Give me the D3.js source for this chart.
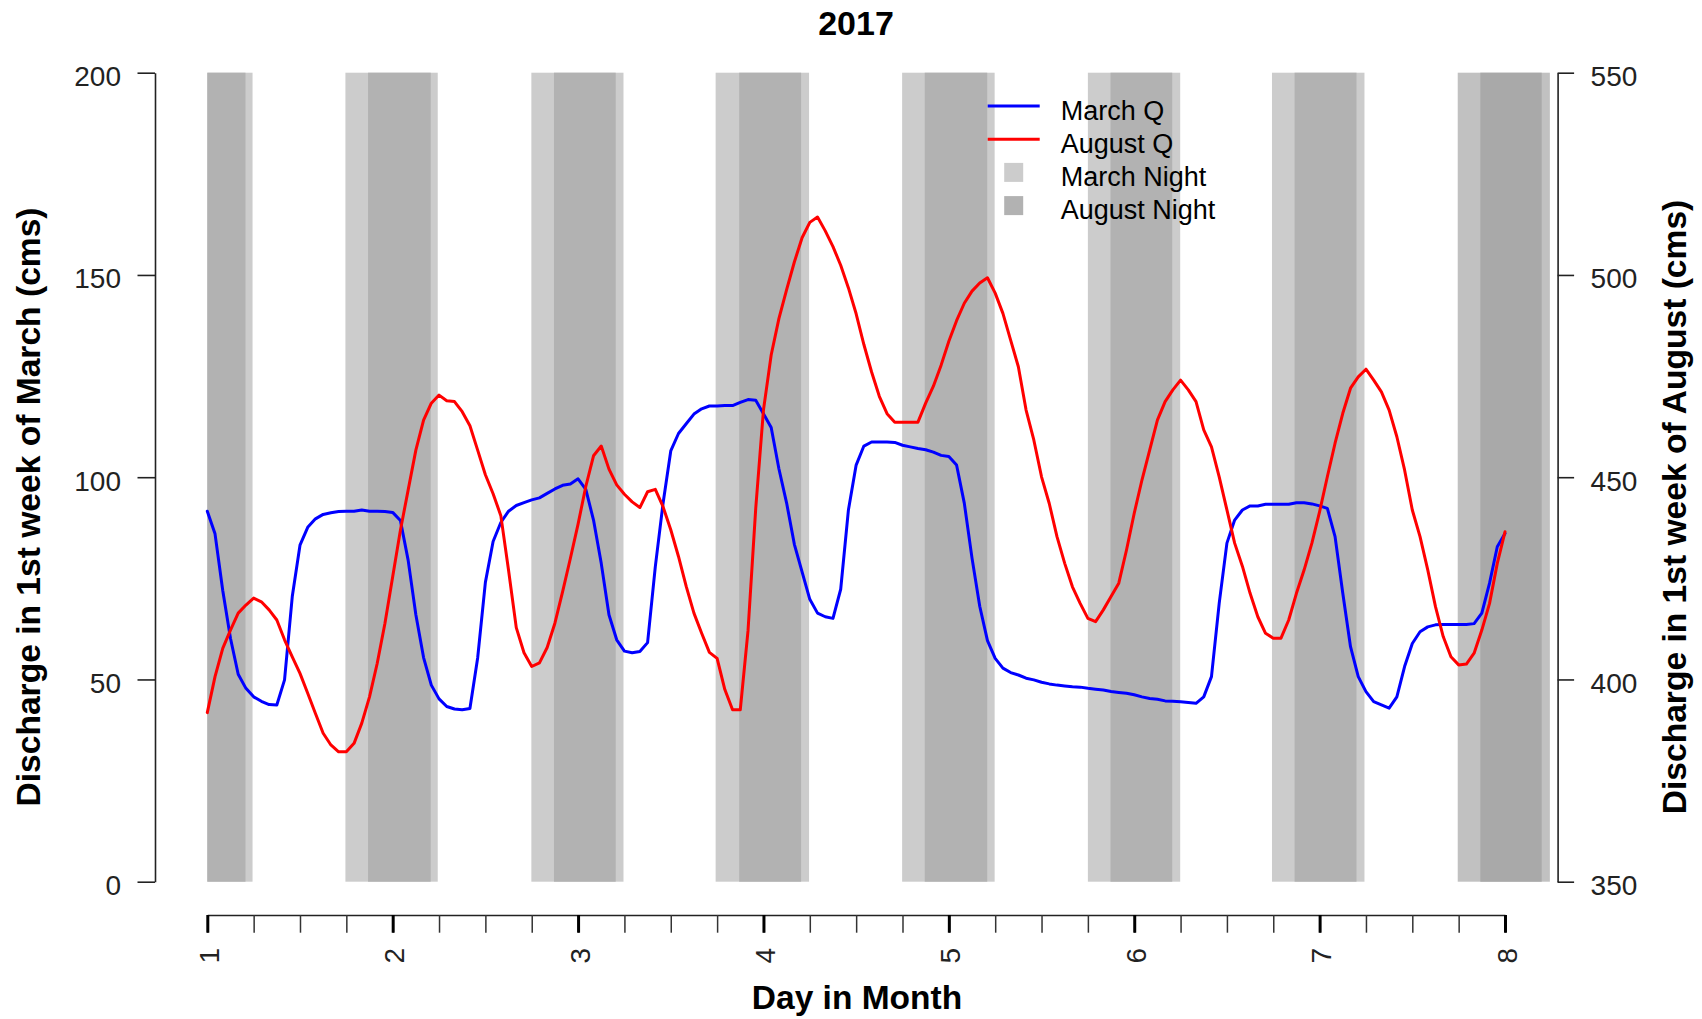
<!DOCTYPE html>
<html>
<head>
<meta charset="utf-8">
<script src="https://cdn.jsdelivr.net/npm/d3@7"></script>
<style>
  body { margin: 0; background: #ffffff; }
  svg { display: block; }
  text { font-family: "Liberation Sans", Arial, Helvetica, sans-serif; }
</style>
</head>
<body>
<svg id="chart" width="1702" height="1019"></svg>
<script>
// Hourly discharge, first reading at 00:00 on day 1 (index i -> day 1 + i/24)
const firstDay = 1;
const hoursPerDay = 24;

// Discharge in the 1st week of March (cms), left axis
const marchQ = [
  91.6, 86.0, 72.0, 60.2, 51.3, 47.8, 45.7, 44.6, 43.8, 43.7, 49.9, 70.5,
  83.2, 87.6, 89.7, 90.8, 91.2, 91.5, 91.6, 91.6, 91.9, 91.6, 91.6, 91.5,
  91.3, 89.3, 79.5, 66.0, 55.4, 48.6, 45.2, 43.3, 42.7, 42.5, 42.8, 55.3,
  74.0, 84.1, 88.8, 91.6, 93.0, 93.7, 94.4, 94.9, 96.0, 97.1, 98.0, 98.3,
  99.6, 97.0, 89.4, 78.7, 66.0, 59.8, 57.0, 56.6, 56.9, 59.1, 77.9, 93.5,
  106.5, 110.8, 113.2, 115.6, 116.9, 117.6, 117.6, 117.7, 117.7, 118.5, 119.2, 119.0,
  115.7, 112.3, 102.1, 93.6, 83.4, 76.6, 69.8, 66.4, 65.5, 65.1, 72.3, 91.9,
  103.0, 107.7, 108.7, 108.7, 108.7, 108.6, 107.9, 107.5, 107.1, 106.8, 106.2, 105.4,
  105.1, 103.0, 93.6, 80.0, 68.1, 59.6, 55.2, 52.8, 51.7, 51.1, 50.3, 49.9,
  49.3, 48.9, 48.6, 48.4, 48.2, 48.1, 47.8, 47.6, 47.4, 47.0, 46.8, 46.6,
  46.2, 45.7, 45.3, 45.1, 44.7, 44.6, 44.5, 44.3, 44.1, 45.7, 50.7, 68.8,
  83.7, 89.4, 91.9, 92.9, 92.9, 93.3, 93.3, 93.3, 93.3, 93.7, 93.7, 93.4,
  92.9, 92.3, 85.3, 71.3, 58.1, 50.7, 47.0, 44.5, 43.7, 42.9, 45.7, 53.2,
  58.9, 61.8, 63.0, 63.5, 63.6, 63.6, 63.6, 63.6, 63.8, 66.4, 73.8, 82.8,
  86.1
];

// Discharge in the 1st week of August (cms), right axis
const augustQ = [
  391.8, 400.7, 407.7, 412.2, 416.4, 418.4, 420.1, 419.2, 417.2, 414.7, 409.8, 405.6,
  401.5, 396.6, 391.6, 386.7, 383.8, 382.1, 382.1, 384.2, 389.2, 395.7, 404.0, 413.9,
  425.4, 436.9, 446.8, 456.7, 464.1, 468.3, 470.3, 468.9, 468.7, 466.2, 462.7, 456.7,
  450.6, 445.9, 440.5, 427.0, 412.8, 406.6, 403.2, 404.1, 407.9, 413.9, 421.7, 429.9,
  438.4, 447.7, 455.3, 457.7, 452.0, 448.1, 445.8, 443.9, 442.5, 446.4, 447.0, 442.7,
  437.0, 430.4, 423.0, 416.4, 411.4, 406.7, 405.2, 397.5, 392.5, 392.5, 412.0, 442.3,
  466.6, 480.2, 489.2, 496.4, 503.2, 509.2, 513.0, 514.3, 510.9, 507.0, 502.4, 496.8,
  490.4, 482.8, 476.0, 470.0, 465.7, 463.6, 463.6, 463.6, 463.6, 468.3, 472.5, 477.7,
  483.6, 488.7, 493.0, 496.0, 498.0, 499.3, 495.5, 490.5, 483.9, 477.3, 466.6, 459.2,
  450.1, 443.5, 435.3, 428.7, 422.9, 418.8, 415.1, 414.3, 417.2, 420.5, 423.8, 432.0,
  441.1, 449.3, 456.7, 464.1, 468.7, 471.6, 474.0, 471.6, 468.7, 461.7, 457.5, 450.1,
  441.9, 433.7, 428.0, 421.3, 415.5, 411.4, 410.2, 410.2, 414.7, 421.3, 427.1, 433.7,
  441.5, 450.1, 458.4, 465.8, 472.0, 474.8, 476.7, 474.0, 471.1, 466.6, 460.0, 451.8,
  441.9, 435.3, 427.1, 418.0, 410.6, 405.6, 403.6, 403.8, 406.5, 412.2, 418.8, 428.7,
  436.5
];

// Night periods (day of month, fractional): sunset -> next sunrise
const marchNightStart  = [1.000, 1.745, 2.748, 3.742, 4.748, 5.750, 6.743, 7.745];
const marchNightEnd    = [1.244, 2.243, 3.245, 4.246, 5.247, 6.248, 7.242, 8.242];
const augustNightStart = [1.000, 1.867, 2.870, 3.869, 4.870, 5.872, 6.865, 7.867];
const augustNightEnd   = [1.206, 2.205, 3.203, 4.203, 5.207, 6.205, 7.199, 8.198];

// Axis ticks
const dayTicks = [1, 2, 3, 4, 5, 6, 7, 8];
const quarterDayTicks = d3.range(1, 8.001, 0.25);
const leftTicks = [0, 50, 100, 150, 200];
const rightTicks = [350, 400, 450, 500, 550];

// Text
const chartTitle = "2017";
const xTitle = "Day in Month";
const leftTitle = "Discharge in 1st week of March (cms)";
const rightTitle = "Discharge in 1st week of August (cms)";
const legendLabels = ["March Q", "August Q", "March Night", "August Night"];

// Colours
const marchColor = "#0000ff";
const augustColor = "#ff0000";
const marchNightColor = "#cccccc";
const augustNightColor = "#b2b2b2";
// the final night (past the last reading) is shaded a touch darker
const marchLastNightColor = "#c1c1c1";
const augustLastNightColor = "#a9a9a9";

// ---- layout ----
const svg = d3.select("#chart");
const plotTop = 72.7, plotBottom = 881.7;
const leftAxisX = 155, rightAxisX = 1557.6, bottomAxisY = 915;

const x = d3.scaleLinear().domain([1, 8]).range([207.3, 1505]);
const yL = d3.scaleLinear().domain([0, 200]).range([plotBottom, plotTop]);
const yR = d3.scaleLinear().domain([350, 550]).range([plotBottom, plotTop]);

const dayOf = i => firstDay + i / hoursPerDay;

// ---- night shading ----
const lastNight = marchNightStart.length - 1;
const marchNights = marchNightStart.map((s, i) => ({ s, e: marchNightEnd[i], i }));
const augustNights = augustNightStart.map((s, i) => ({ s, e: augustNightEnd[i], i }));

svg.append("g").selectAll("rect").data(marchNights).join("rect")
  .attr("x", d => x(d.s))
  .attr("width", d => x(d.e) - x(d.s))
  .attr("y", yL(200))
  .attr("height", yL(0) - yL(200))
  .attr("fill", d => d.i === lastNight ? marchLastNightColor : marchNightColor);

svg.append("g").selectAll("rect").data(augustNights).join("rect")
  .attr("x", d => x(d.s))
  .attr("width", d => x(d.e) - x(d.s))
  .attr("y", yL(200))
  .attr("height", yL(0) - yL(200))
  .attr("fill", d => d.i === lastNight ? augustLastNightColor : augustNightColor);

// ---- discharge lines ----
const lineL = d3.line().x((d, i) => x(dayOf(i))).y(d => yL(d));
const lineR = d3.line().x((d, i) => x(dayOf(i))).y(d => yR(d));

svg.append("path").datum(marchQ)
  .attr("d", lineL).attr("fill", "none")
  .attr("stroke", marchColor).attr("stroke-width", 3)
  .attr("stroke-linejoin", "round").attr("stroke-linecap", "round");

svg.append("path").datum(augustQ)
  .attr("d", lineR).attr("fill", "none")
  .attr("stroke", augustColor).attr("stroke-width", 3)
  .attr("stroke-linejoin", "round").attr("stroke-linecap", "round");

// ---- axes ----
function styleAxis(g, fontSize) {
  g.select(".domain").attr("stroke", "#222").attr("stroke-width", 1.6);
  g.selectAll(".tick line").attr("stroke", "#222").attr("stroke-width", 1.6);
  g.selectAll(".tick text").attr("fill", "#222")
    .style("font-size", fontSize + "px");
}

const gLeft = svg.append("g").attr("transform", `translate(${leftAxisX},0)`)
  .call(d3.axisLeft(yL).tickValues(leftTicks).tickSize(17.5).tickSizeOuter(0)
    .tickPadding(16.5).tickFormat(d3.format("d")));
styleAxis(gLeft, 28);
gLeft.selectAll(".tick text").attr("dy", "0.46em");

const gRight = svg.append("g").attr("transform", `translate(${rightAxisX},0)`)
  .call(d3.axisRight(yR).tickValues(rightTicks).tickSize(16.5).tickSizeOuter(0)
    .tickPadding(16.5).tickFormat(d3.format("d")));
styleAxis(gRight, 28);
gRight.selectAll(".tick text").attr("dy", "0.46em");

// minor ticks every 6 hours
const gMinor = svg.append("g").attr("transform", `translate(0,${bottomAxisY})`)
  .call(d3.axisBottom(x).tickValues(quarterDayTicks).tickSize(17.7).tickSizeOuter(0)
    .tickFormat(""));
styleAxis(gMinor, 28);
gMinor.selectAll(".tick line").attr("stroke-width", 1.5).attr("stroke", "#333");

// major ticks at each day, labels perpendicular to the axis
const gMajor = svg.append("g").attr("transform", `translate(0,${bottomAxisY})`)
  .call(d3.axisBottom(x).tickValues(dayTicks).tickSize(17.7).tickSizeOuter(0)
    .tickFormat(d3.format("d")));
styleAxis(gMajor, 28);
gMajor.select(".domain").remove();
gMajor.selectAll(".tick line").attr("stroke-width", 3).attr("stroke", "#000");
gMajor.selectAll(".tick text")
  .attr("transform", "rotate(-90)")
  .attr("x", -33).attr("y", 11).attr("dy", 0)
  .attr("text-anchor", "end");

// ---- titles ----
svg.append("text").attr("x", 856).attr("y", 35)
  .attr("text-anchor", "middle").style("font-size", "34px").style("font-weight", "bold")
  .attr("fill", "#000").text(chartTitle);

svg.append("text").attr("x", 857).attr("y", 1009)
  .attr("text-anchor", "middle").style("font-size", "33.5px").style("font-weight", "bold")
  .attr("fill", "#000").text(xTitle);

svg.append("text").attr("transform", "translate(40,507) rotate(-90)")
  .attr("text-anchor", "middle").style("font-size", "33.6px").style("font-weight", "bold")
  .attr("fill", "#000").text(leftTitle);

svg.append("text").attr("transform", "translate(1685.5,507) rotate(-90)")
  .attr("text-anchor", "middle").style("font-size", "33.6px").style("font-weight", "bold")
  .attr("fill", "#000").text(rightTitle);

// ---- legend ----
const legendItems = [
  { label: legendLabels[0], kind: "line", color: marchColor },
  { label: legendLabels[1], kind: "line", color: augustColor },
  { label: legendLabels[2], kind: "box", color: marchNightColor },
  { label: legendLabels[3], kind: "box", color: augustNightColor }
];
const legendX = 987.7, legendY0 = 106, legendStep = 33.2;
const lg = svg.append("g");
const rows = lg.selectAll("g").data(legendItems).join("g")
  .attr("transform", (d, i) => `translate(${legendX},${legendY0 + i * legendStep})`);
rows.filter(d => d.kind === "line").append("line")
  .attr("x1", 0).attr("x2", 52).attr("y1", 0).attr("y2", 0)
  .attr("stroke", d => d.color).attr("stroke-width", 3);
rows.filter(d => d.kind === "box").append("rect")
  .attr("x", 16.5).attr("y", -9.5).attr("width", 19).attr("height", 19)
  .attr("fill", d => d.color);
rows.append("text").attr("x", 73).attr("y", 13.5)
  .style("font-size", "27px").attr("fill", "#000").text(d => d.label);
</script>
</body>
</html>
